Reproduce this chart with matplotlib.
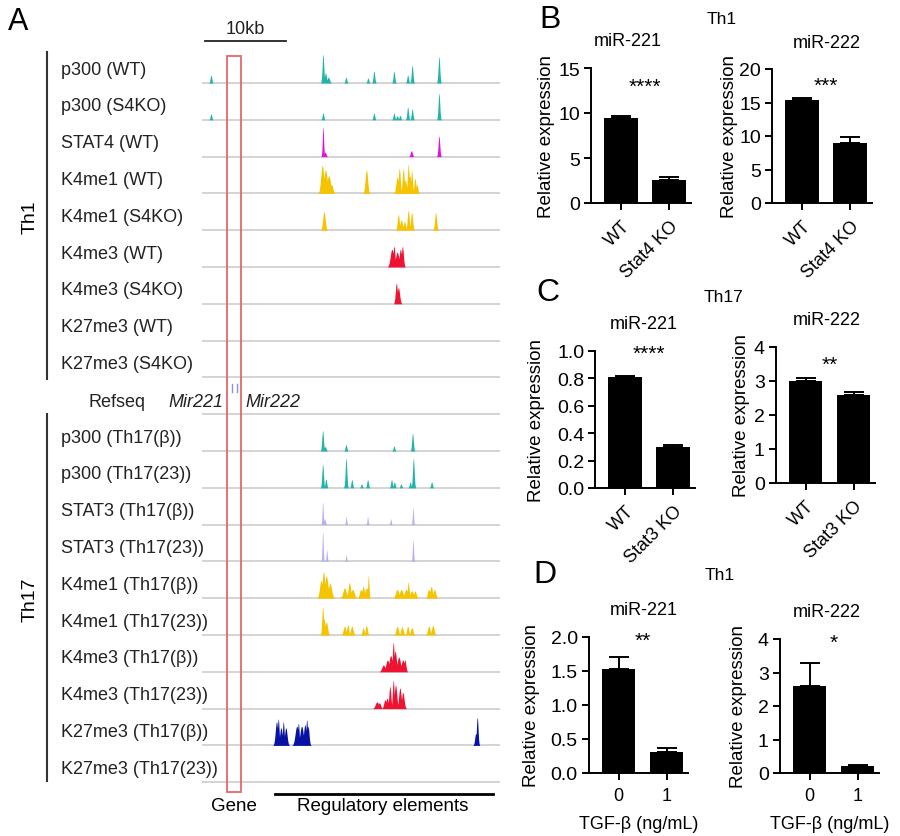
import numpy as np
import matplotlib
matplotlib.use("Agg")
import matplotlib.pyplot as plt
from matplotlib import transforms
from matplotlib.patches import Rectangle

plt.rcParams['font.family'] = ['Liberation Sans', 'DejaVu Sans']

W, H = 900, 837

# ---------------- Panel A data ----------------
track_labels = ["p300 (WT)", "p300 (S4KO)", "STAT4 (WT)", "K4me1 (WT)", "K4me1 (S4KO)",
                "K4me3 (WT)", "K4me3 (S4KO)", "K27me3 (WT)", "K27me3 (S4KO)", "",
                "p300 (Th17(β))", "p300 (Th17(23))", "STAT3 (Th17(β))", "STAT3 (Th17(23))",
                "K4me1 (Th17(β))", "K4me1 (Th17(23))", "K4me3 (Th17(β))", "K4me3 (Th17(23))",
                "K27me3 (Th17(β))", "K27me3 (Th17(23))"]

TEAL, MAG, GOLD, RED, NAVY, LAV = '#20b4ab', '#e010e0', '#f5c300', '#ee1233', '#0812a2', '#b6b0ee'
track_colors = [TEAL, TEAL, MAG, GOLD, GOLD, RED, RED, NAVY, NAVY, None,
                TEAL, TEAL, LAV, LAV, GOLD, GOLD, RED, RED, NAVY, NAVY]

# peaks: (position kb, relative height, width kb)
p300_wt = [(1.11, .27, .1), (14.94, .97, .1), (15.25, .35, .12), (15.6, .2, .15), (17.78, .2, .1),
           (20.49, .17, .1), (21.23, .4, .1), (23.70, .4, .1), (25.4, .27, .1), (25.95, .6, .1), (29.26, .9, .1)]
p300_s4ko = [(1.11, .2, .1), (14.94, .23, .1), (21.23, .23, .1), (23.70, .23, .1), (24.1, .13, .12),
             (24.45, .15, .1), (25.4, .43, .1), (25.95, .37, .1), (29.26, .9, .1)]
stat4_wt = [(14.94, 1.0, .08), (15.2, .15, .12), (25.85, .2, .12), (29.26, .7, .1)]
k4me1_wt = [(14.85, .95, .18), (15.25, .8, .2), (15.65, .6, .22), (16.0, .3, .15), (20.3, .8, .15),
            (24.1, .55, .15), (24.36, .85, .12), (24.85, .83, .12), (25.1, .45, .15), (25.47, 1.0, .1),
            (25.65, .6, .15), (25.89, .77, .1), (26.3, .5, .12), (26.55, .3, .1)]
k4me1_s4ko = [(15.06, .63, .15), (24.24, .53, .12), (24.6, .35, .15), (25.0, .3, .12), (25.47, .67, .12),
              (25.89, .6, .12), (28.85, .6, .12)]
k4me3_wt = [(23.45, .6, .2), (23.7, .7, .12), (24.1, .5, .2), (24.5, .6, .15), (24.75, .7, .12)]
k4me3_s4ko = [(24.0, .7, .12), (24.25, .55, .15)]
k27me3_wt = []
k27me3_s4ko = []
p300_b = [(14.9, .7, .1), (15.2, .15, .12), (17.78, .22, .1), (23.7, .17, .1), (26.0, .6, .1)]
p300_23 = [(14.9, .8, .1), (15.3, .3, .1), (17.78, 1.0, .1), (18.5, .28, .1), (19.7, .13, .1), (20.45, .28, .1),
           (23.4, .28, .1), (23.75, .2, .1), (24.57, .13, .1), (25.7, .2, .1), (26.1, 1.0, .1), (28.35, .2, .1)]
stat3_b = [(14.9, .77, .07), (15.15, .2, .1), (17.8, .27, .07), (20.45, .27, .07), (23.3, .2, .07), (26.05, .57, .07)]
stat3_23 = [(14.9, 1.0, .07), (15.4, .38, .07), (17.8, .22, .07), (26.05, .73, .07)]
k4me1_b = [(14.7, .6, .18), (15.0, .9, .15), (15.35, .75, .2), (15.8, .5, .2), (17.6, .35, .2), (18.2, .53, .15),
           (18.6, .3, .2), (19.6, .3, .15), (19.9, .4, .15), (20.3, .35, .2), (20.54, .77, .08), (24.1, .3, .2),
           (24.6, .3, .2), (25.2, .3, .2), (25.47, .55, .1), (25.9, .25, .2), (26.3, .25, .15), (28.0, .3, .15),
           (28.3, .4, .15), (28.7, .3, .15)]
k4me1_23 = [(14.9, .95, .1), (15.05, .55, .15), (15.35, .45, .15), (17.6, .3, .15), (18.0, .35, .12),
            (18.5, .3, .15), (19.9, .25, .12), (20.3, .33, .12), (24.1, .3, .15), (24.7, .28, .15),
            (25.4, .3, .12), (25.9, .25, .15), (28.0, .3, .15), (28.5, .33, .15)]
k4me3_b = [(22.4, .23, .2), (22.9, .4, .2), (23.3, .55, .2), (23.62, 1.0, .1), (23.85, .7, .15),
           (24.3, .5, .2), (24.8, .4, .2), (25.05, .4, .12)]
k4me3_23 = [(21.6, .23, .2), (21.9, .2, .15), (22.6, .3, .15), (22.85, .35, .15), (23.2, .75, .12),
            (23.62, .97, .1), (23.9, .8, .15), (24.44, .7, .15), (24.8, .55, .15)]
k27me3_b = [(9.2, .8, .15), (9.42, .9, .1), (9.75, .6, .15), (10.04, .8, .1), (10.35, .6, .15),
            (11.7, .65, .2), (11.9, .75, .1), (12.3, .65, .2), (12.7, .7, .15), (12.93, .87, .1),
            (13.1, .65, .12), (33.8, .4, .12), (33.99, .95, .1)]
k27me3_23 = []

track_peaks = [p300_wt, p300_s4ko, stat4_wt, k4me1_wt, k4me1_s4ko, k4me3_wt, k4me3_s4ko, k27me3_wt,
               k27me3_s4ko, None, p300_b, p300_23, stat3_b, stat3_23, k4me1_b, k4me1_23, k4me3_b,
               k4me3_23, k27me3_b, k27me3_23]

REGION_KB = 36.8
gene_box_kb = (3.09, 4.81)
gene_marks_kb = [3.74, 4.35]
reg_elements_kb = (9.0, 35.9)

# ---------------- Bar panel data ----------------
b_groups = ["WT", "Stat4 KO"]
c_groups = ["WT", "Stat3 KO"]
d_groups = ["0", "1"]
b221_vals, b221_err = [9.5, 2.6], [0.2, 0.25]
b222_vals, b222_err = [15.4, 9.0], [0.3, 0.8]
c221_vals, c221_err = [0.81, 0.30], [0.007, 0.015]
c222_vals, c222_err = [3.0, 2.58], [0.1, 0.1]
d221_vals, d221_err = [1.53, 0.31], [0.17, 0.06]
d222_vals, d222_err = [2.6, 0.2], [0.67, 0.05]

fig = plt.figure(figsize=(W / 100, H / 100), dpi=100)


def px_box(left, top, right, bottom):
    return [left / W, 1 - bottom / H, (right - left) / W, (bottom - top) / H]


def ftext(x, y, s, **kw):
    return fig.text(x / W, 1 - y / H, s, **kw)


# ---------------- Panel A ----------------
ROW0, ROWSTEP = 84.0, 36.8
ax = fig.add_axes(px_box(202, ROW0 - ROWSTEP, 500, ROW0 + 19.5 * ROWSTEP))
ax.set_xlim(0, REGION_KB)
ax.set_ylim(19.5, -1)
ax.axis('off')

xg = np.linspace(0, REGION_KB, 4000)
blend = transforms.blended_transform_factory(fig.transFigure, ax.transData)
for i, (lab, col, peaks) in enumerate(zip(track_labels, track_colors, track_peaks)):
    ax.plot([0, REGION_KB], [i, i], color='#c9c9c9', lw=1.1, zorder=1)
    if lab:
        ax.text(61 / W, i - 0.38, lab, transform=blend, fontsize=13, va='center', ha='left', color='#222222')
    if peaks:
        sig = np.zeros_like(xg)
        for c, h, w in peaks:
            sig = np.maximum(sig, h * np.exp(-0.5 * ((xg - c) / w) ** 2))
        sig[sig < 0.01] = 0
        ax.fill_between(xg, i, i - 0.8 * sig, color=col, lw=0, zorder=2)

# gene box
ax.add_patch(Rectangle((gene_box_kb[0], -0.73), gene_box_kb[1] - gene_box_kb[0], 20.0,
                       fill=False, ec='#e06a6a', lw=1.3, zorder=3, clip_on=False))
for gx in gene_marks_kb:
    ax.plot([gx, gx], [8.18, 8.4], color='#8a95d8', lw=1, zorder=3)
# scale bar
ax.plot([0.37, 10.37], [-1.14, -1.14], color='#222222', lw=1.3, clip_on=False)
ax.text(5.3, -1.47, "10kb", ha='center', va='center', fontsize=13, color='#222222')
# regulatory elements bar
ax.plot(list(reg_elements_kb), [19.32, 19.32], color='black', lw=2, clip_on=False)
ax.text(22.3, 19.63, "Regulatory elements", ha='center', va='center', fontsize=13.5, clip_on=False)
ax.text(3.95, 19.63, "Gene", ha='center', va='center', fontsize=13.5, clip_on=False)

# Refseq row
ftext(88, 403, "Refseq", fontsize=13, va='center', ha='left', color='#222222')
ftext(168, 403, "Mir221", fontsize=13, va='center', ha='left', style='italic', color='#222222')
ftext(245, 403, "Mir222", fontsize=13, va='center', ha='left', style='italic', color='#222222')

# group brackets
fig.add_artist(plt.Line2D([47 / W, 47 / W], [1 - 53 / H, 1 - 380 / H], color='#333333', lw=1.5))
fig.add_artist(plt.Line2D([47 / W, 47 / W], [1 - 415 / H, 1 - 782 / H], color='#333333', lw=1.5))
ftext(30, 217, "Th1", rotation=90, fontsize=14, ha='center', va='center')
ftext(30, 600, "Th17", rotation=90, fontsize=14, ha='center', va='center')
ftext(18, 22, "A", fontsize=22, ha='center', va='center')


# ---------------- Bar panels ----------------
def bar_panel(wt_center, top, bottom, vals, errs, labels, ylim, yticks, ytick_fmt,
              title, title_x, ylabel_x, stars, star_y, rotate=True, xlabel=None):
    left = wt_center - 0.62 * 48
    right = left + 2.07 * 48
    a = fig.add_axes(px_box(left, top, right, bottom))
    x = np.arange(len(vals))
    a.bar(x, vals, width=0.7, color='black', zorder=2)
    a.errorbar(x, vals, yerr=[np.zeros(len(errs)), errs], fmt='none', ecolor='black',
               elinewidth=1.4, capsize=7.5, capthick=1.4, zorder=1)
    a.set_xlim(-0.62, 1.45)
    a.set_ylim(*ylim)
    a.set_yticks(yticks)
    a.set_yticklabels([ytick_fmt.format(t) for t in yticks])
    a.set_xticks(x)
    if rotate:
        a.set_xticklabels(labels, rotation=45, ha='right', rotation_mode='anchor')
    else:
        a.set_xticklabels(labels)
    for s in ['top', 'right']:
        a.spines[s].set_visible(False)
    for s in ['left', 'bottom']:
        a.spines[s].set_linewidth(1.4)
    a.tick_params(axis='both', length=5, width=1.4, labelsize=14, pad=3)
    a.tick_params(axis='x', labelsize=13, pad=5)
    a.set_ylabel("Relative expression", fontsize=13.5)
    a.yaxis.set_label_coords(ylabel_x / W, 1 - (top + bottom) / 2 / H, transform=fig.transFigure)
    if xlabel:
        a.set_xlabel(xlabel, fontsize=13, labelpad=8)
    ftext(title_x, top - 27, title, fontsize=13, ha='center', va='center')
    a.text(0.5, star_y, stars, ha='center', va='center', fontsize=15, clip_on=False)
    return a


bar_panel(621, 69, 204, b221_vals, b221_err, b_groups, (0, 15), [0, 5, 10, 15], "{:g}",
          "miR-221", 628, 555, "****", 13.0)
bar_panel(802, 70, 204, b222_vals, b222_err, b_groups, (0, 20), [0, 5, 10, 15, 20], "{:g}",
          "miR-222", 827, 738, "***", 17.6)
bar_panel(625, 352, 489, c221_vals, c221_err, c_groups, (0, 1.0), [0, 0.2, 0.4, 0.6, 0.8, 1.0], "{:.1f}",
          "miR-221", 644, 545, "****", 0.98)
bar_panel(805.5, 348, 484, c222_vals, c222_err, c_groups, (0, 4), [0, 1, 2, 3, 4], "{:g}",
          "miR-222", 827, 750, "**", 3.5)
bar_panel(618.5, 638, 774, d221_vals, d221_err, d_groups, (0, 2.0), [0, 0.5, 1.0, 1.5, 2.0], "{:.1f}",
          "miR-221", 644, 540, "**", 1.95, rotate=False, xlabel="TGF-β (ng/mL)")
bar_panel(809.5, 640, 774, d222_vals, d222_err, d_groups, (0, 4), [0, 1, 2, 3, 4], "{:g}",
          "miR-222", 827, 747, "*", 3.9, rotate=False, xlabel="TGF-β (ng/mL)")

ftext(550, 20, "B", fontsize=23, ha='center', va='center')
ftext(548, 293, "C", fontsize=23, ha='center', va='center')
ftext(545, 575, "D", fontsize=23, ha='center', va='center')
ftext(722, 20, "Th1", fontsize=12.5, ha='center', va='center')
ftext(723, 297, "Th17", fontsize=12.5, ha='center', va='center')
ftext(720, 575, "Th1", fontsize=12.5, ha='center', va='center')

fig.savefig("out.png", dpi=100)
